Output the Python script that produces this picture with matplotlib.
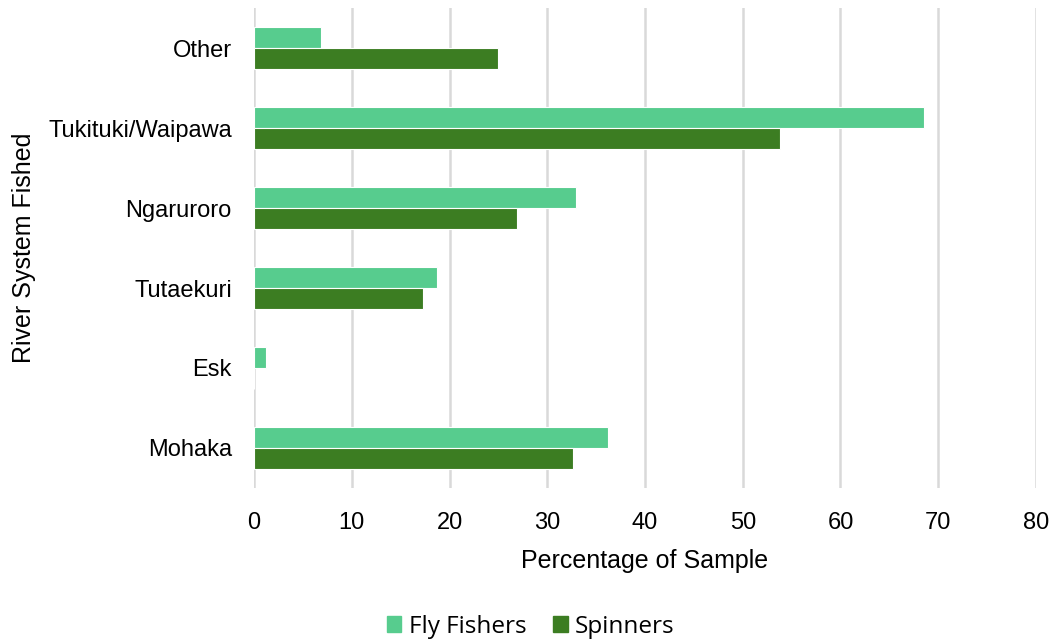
import numpy as np
import matplotlib.pyplot as plt
from matplotlib.patches import Patch

# River systems, bottom to top as drawn
rivers = ['Mohaka', 'Esk', 'Tutaekuri', 'Ngaruroro', 'Tukituki/Waipawa', 'Other']
fly_fishers = [36.2, 1.2, 18.7, 32.9, 68.5, 6.9]
spinners = [32.6, 0.0, 17.3, 26.9, 53.8, 25.0]

fly_color = '#57CC8E'
spin_color = '#3C7D22'

plt.rcParams['font.family'] = ['Liberation Sans', 'DejaVu Sans']

fig = plt.figure(figsize=(10.51, 6.42), dpi=100)
ax = fig.add_axes([0.2417, 0.2399, 0.744, 0.7476])

y = np.arange(len(rivers))
h = 0.26
ax.barh(y + h / 2, fly_fishers, height=h, color=fly_color, edgecolor='white', linewidth=0.8, zorder=3)
ax.barh(y - h / 2, spinners, height=h, color=spin_color, edgecolor='white', linewidth=0.8, zorder=3)

ax.set_xlim(0, 80)
ax.set_ylim(-0.5, len(rivers) - 0.5)
ax.set_xticks(np.arange(0, 81, 10))
ax.set_yticks(y)
ax.set_yticklabels(rivers)
ax.tick_params(axis='both', length=0, labelsize=17, colors='black')
ax.tick_params(axis='x', pad=17)
ax.tick_params(axis='y', pad=16)
ax.grid(axis='x', color='#D9D9D9', linewidth=1.8, zorder=0)
for s in ax.spines.values():
    s.set_visible(False)

ax.set_xlabel('Percentage of Sample', fontsize=18, labelpad=11)
ax.set_ylabel('River System Fished', fontsize=18, labelpad=9)

handles = [Patch(color=fly_color), Patch(color=spin_color)]
fig.legend(handles, ['Fly Fishers', 'Spinners'], loc='center', bbox_to_anchor=(0.505, 0.024),
           ncol=2, frameon=False, handlelength=0.6, handleheight=0.6, handletextpad=0.3,
           columnspacing=1.1, prop={'family': ['Open Sans', 'DejaVu Sans'], 'size': 17.5})

plt.savefig('out.png', dpi=100)
